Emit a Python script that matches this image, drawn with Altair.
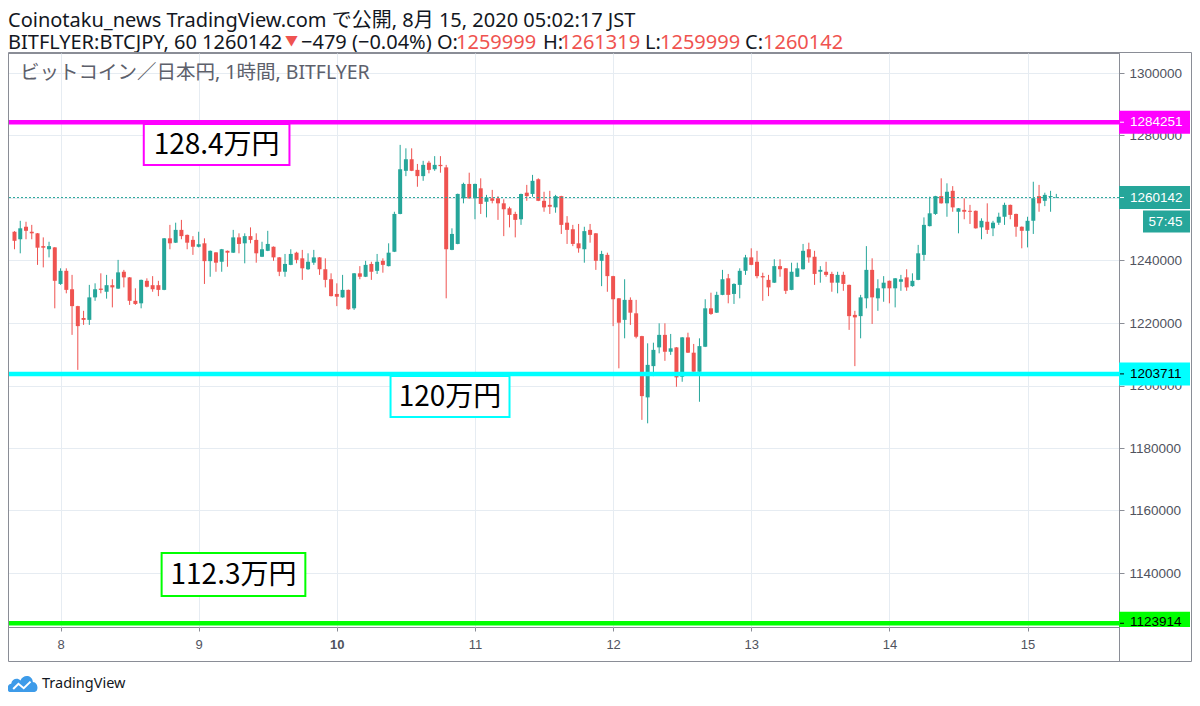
import altair as alt
import pandas as pd

# ---------------- data ----------------
hours = list(range(-8, 174))  # hourly candles, 0 = Aug 8 00:00 JST

opens = [
1249200,1246800,1250800,1249200,1248700,1244600,1243600,1244200,1232500,1236700,
1230800,1225400,1221600,1221000,1228200,1231000,1230000,1232100,1231000,1236400,
1234600,1227100,1226300,1233500,1232100,1232100,1230600,1247100,1245700,1249800,
1248200,1246600,1244400,1245500,1239800,1242600,1239600,1243100,1242500,1247400,
1245500,1247800,1246600,1241200,1243100,1244400,1241000,1236400,1238600,1242500,
1240700,1237200,1239300,1241000,1237200,1234000,1229300,1228200,1230600,1224700,
1235900,1234800,1238900,1236700,1239900,1238200,1242800,1254900,1268700,1272400,
1269000,1267000,1271300,1269200,1270600,1269800,1243400,1245300,1259900,1264500,
1259900,1263100,1258800,1259900,1259900,1258300,1256700,1254900,1253200,1261700,
1261300,1266000,1259100,1257800,1257000,1260600,1252100,1250000,1245500,1243600,
1249800,1248700,1239900,1241800,1235000,1227900,1221000,1227400,1223100,1215800,
1196200,1206200,1212200,1216200,1210800,1212200,1202800,1215400,1210500,1204400,
1212400,1224700,1223300,1229000,1234300,1229300,1232200,1236700,1241000,1239600,
1235000,1233800,1232900,1238200,1237500,1230600,1234800,1237200,1243600,1241200,
1236400,1236400,1235700,1232900,1235400,1232200,1222600,1222200,1227900,1237000,
1227900,1231100,1233500,1231100,1233200,1234600,1231800,1233800,1241800,1251000,
1254900,1260600,1258300,1262300,1255600,1256200,1255900,1255900,1250600,1252400,
1250300,1252100,1254000,1257800,1254900,1250800,1249500,1252700,1260600,1259100,
1260300,1259999]

highs = [
1249400,1252700,1252400,1251400,1248800,1247400,1246000,1244300,1237500,1237500,
1235400,1225500,1223900,1232200,1232700,1235900,1235400,1234000,1240200,1237000,
1234700,1231100,1233900,1234300,1235000,1233500,1247200,1251400,1252100,1253000,
1248300,1247800,1249200,1247100,1243200,1242700,1243700,1243200,1249800,1248700,
1248700,1250600,1248700,1246000,1249500,1244500,1241100,1242100,1243600,1242800,
1243400,1242300,1243400,1241100,1240700,1235900,1232700,1235400,1230700,1236000,
1238200,1239900,1239600,1242100,1240700,1245500,1255600,1277000,1275900,1275900,
1270900,1271900,1271900,1273400,1273400,1270600,1250300,1261400,1264900,1268100,
1264600,1266300,1261000,1262600,1260600,1259600,1257200,1255600,1261400,1264200,
1267400,1266300,1262000,1262300,1261000,1260700,1254200,1251400,1251700,1250800,
1251700,1248800,1243100,1242500,1235100,1228000,1234000,1228200,1227400,1215900,
1213500,1213700,1219900,1219900,1216500,1212300,1215500,1216900,1213300,1215100,
1227600,1229700,1230000,1237000,1235700,1232700,1237500,1241800,1243900,1243100,
1236100,1235400,1240400,1240400,1237600,1239300,1239300,1245300,1245700,1243100,
1238200,1239600,1236400,1236400,1236400,1232300,1223900,1229000,1244600,1240700,
1234000,1235000,1233600,1234400,1235400,1237200,1235900,1245000,1253800,1260400,
1260700,1266300,1264700,1263800,1256800,1259900,1257800,1256000,1253500,1258300,
1252700,1255300,1258500,1257900,1255000,1250900,1254000,1265200,1264200,1261700,
1262300,1261319]

lows = [
1243600,1242300,1246800,1246800,1238600,1237800,1241000,1224700,1232200,1229500,
1216200,1205000,1219400,1219400,1227100,1229500,1227800,1225000,1230900,1231400,
1225800,1225800,1224700,1231400,1230000,1228600,1230500,1243600,1245600,1246800,
1243600,1241800,1244200,1232500,1234800,1236400,1236400,1238000,1242400,1242300,
1239100,1245500,1239300,1241100,1243000,1239900,1235000,1234800,1238500,1239100,
1233800,1237000,1238600,1235400,1231400,1228500,1225400,1228100,1224200,1224200,
1234000,1234700,1233800,1235700,1236100,1238100,1242700,1254800,1267000,1268600,
1263600,1265500,1267900,1268700,1268100,1227900,1243300,1245200,1258300,1259800,
1253200,1254900,1253800,1258300,1253000,1247800,1250600,1247400,1251400,1259100,
1260400,1259000,1255600,1254900,1255300,1248500,1245300,1244600,1242500,1239300,
1245700,1237000,1231800,1230000,1219000,1205500,1215100,1219400,1215100,1189000,
1187900,1203000,1210300,1207900,1209800,1199600,1201200,1210400,1204300,1194800,
1212300,1222600,1223200,1228900,1226300,1226100,1227900,1235400,1238500,1234300,
1227100,1228600,1232800,1234800,1229300,1230500,1234700,1237100,1239300,1232200,
1232900,1234800,1230000,1229500,1230300,1217800,1206200,1215100,1224700,1219700,
1223900,1226800,1226300,1225000,1230300,1230300,1231600,1233700,1239900,1250900,
1254600,1258200,1254000,1255600,1248700,1253200,1251700,1250200,1246800,1248500,
1247800,1251400,1251400,1253200,1247600,1243900,1244200,1248500,1255600,1257400,
1255600,1259999]

closes = [
1246300,1250300,1249500,1248700,1244100,1244100,1244600,1233500,1236700,1230600,
1225400,1219000,1221000,1228200,1230800,1230600,1232100,1231400,1236200,1234600,
1227100,1226100,1233800,1231600,1230800,1230600,1247100,1245500,1249800,1247800,
1245700,1244400,1245200,1239800,1243100,1239300,1243600,1242500,1247400,1245300,
1247800,1246600,1242300,1243600,1245300,1241000,1236400,1238900,1242100,1240200,
1237500,1239600,1241000,1237200,1233800,1228600,1228400,1230600,1224400,1235900,
1234800,1238600,1236400,1239600,1238600,1242500,1254900,1269200,1272400,1268700,
1267000,1270600,1269000,1270600,1270200,1243600,1248500,1261300,1264500,1259900,
1264500,1258100,1260200,1259100,1258300,1256400,1254600,1253000,1261300,1260600,
1265500,1259100,1257000,1257200,1260600,1251400,1249800,1245300,1243900,1249400,
1248200,1239900,1242100,1235000,1227600,1220100,1227400,1223300,1215600,1196600,
1206600,1211400,1216200,1210800,1211900,1202600,1215400,1210500,1204400,1212600,
1224700,1222900,1229000,1234000,1229000,1232500,1236700,1241000,1238600,1235000,
1234600,1231400,1238200,1237200,1230300,1236400,1237500,1243100,1241000,1235700,
1237000,1235400,1232900,1235400,1232500,1222200,1221800,1228200,1237000,1228200,
1231100,1232900,1231100,1234300,1234000,1231400,1233500,1242300,1251400,1255100,
1260600,1258300,1262000,1257000,1256700,1255600,1255600,1250300,1252700,1249800,
1252100,1254000,1257800,1254600,1250800,1249500,1252700,1259900,1258300,1261000,
1260621,1260142]

day_ticks = [0, 24, 48, 72, 96, 120, 144, 168]
day_labels = ["8", "9", "10", "11", "12", "13", "14", "15"]
bold_day = 48
price_ticks = [1140000, 1160000, 1180000, 1200000, 1220000, 1240000, 1260000, 1280000, 1300000]

level_names = ["high", "mid", "low"]
level_prices = [1284251, 1203711, 1123914]
last_price = 1260142
countdown = "57:45"

note_texts = ["128.4万円", "120万円", "112.3万円"]
note_x1 = [14.46, 57.33, 17.56]
note_x2 = [39.77, 78.0, 42.53]
note_p1 = [1283680, 1203040, 1146400]
note_p2 = [1270560, 1189920, 1132640]

header1 = "Coinotaku_news TradingView.com で公開, 8月 15, 2020 05:02:17 JST"
header2 = ["BITFLYER:BTCJPY, 60 1260142", "▼", "−479 (−0.04%) O:", "1259999", "H:",
           "1261319", "L:", "1259999", "C:", "1260142"]
pane_title = "ビットコイン／日本円, 1時間, BITFLYER"

# ---------------- styles ----------------
UP, DOWN = "#26a69a", "#ef5350"
LEVEL_COLORS = ["#ff00ff", "#00ffff", "#00ff00"]
GRID = "#e6ecf2"
FRAME = "#8a8d96"
LBL = "#50535e"
FONT = "'Noto Sans', 'Noto Sans CJK JP', sans-serif"
AXF = "'Liberation Sans', Arial, sans-serif"
W, H = 1111, 574
AX_FS = 13.5

xs = alt.Scale(domain=[-8.26, 183.02], nice=False, zero=False)
ys = alt.Scale(domain=[1122720, 1306400], nice=False, zero=False)

df = pd.DataFrame({"h": hours, "o": opens, "hi": highs, "lo": lows, "c": closes})
df["dir"] = ["up" if c >= o else "down" for o, c in zip(opens, closes)]
color = alt.Color("dir:N", scale=alt.Scale(domain=["up", "down"], range=[UP, DOWN]), legend=None)

label_expr = " : ".join(f"datum.value == {v} ? '{t}'" for v, t in zip(day_ticks, day_labels)) + " : ''"

x_axis = alt.Axis(values=day_ticks, labelExpr=label_expr, grid=True, gridColor=GRID,
                  tickColor=FRAME, tickSize=4, domain=False, labelColor=LBL,
                  labelFontSize=13, labelFont=AXF, labelPadding=7,
                  labelFontWeight={"condition": {"test": f"datum.value == {bold_day}", "value": "bold"},
                                   "value": "normal"})
y_axis = alt.Axis(orient="right", values=price_ticks, format="d", grid=True, gridColor=GRID,
                  tickColor=FRAME, tickSize=5, domainColor=FRAME, labelColor=LBL,
                  labelFontSize=AX_FS, labelFont=AXF, labelPadding=5)

base = alt.Chart(df)
wicks = base.mark_rule(strokeWidth=1).encode(
    x=alt.X("h:Q", scale=xs, axis=x_axis, title=None),
    y=alt.Y("lo:Q", scale=ys, axis=y_axis, title=None),
    y2="hi:Q", color=color)
bodies = base.mark_bar(size=4).encode(
    x=alt.X("h:Q", scale=xs, title=None),
    y=alt.Y("o:Q", scale=ys, title=None),
    y2="c:Q", color=color)

last_df = pd.DataFrame({"p": [last_price]})
last_line = alt.Chart(last_df).mark_rule(color=UP, strokeDash=[2, 2], strokeWidth=1).encode(
    y=alt.Y("p:Q", scale=ys, title=None))

lev_df = pd.DataFrame({"k": level_names, "p": level_prices})
lev_color = alt.Color("k:N", scale=alt.Scale(domain=level_names, range=LEVEL_COLORS), legend=None)
levels = alt.Chart(lev_df).mark_rule(strokeWidth=4.5).encode(
    y=alt.Y("p:Q", scale=ys, title=None), color=lev_color)

notes_df = pd.DataFrame({"k": level_names, "t": note_texts, "x1": note_x1, "x2": note_x2,
                         "p1": note_p1, "p2": note_p2})
note_boxes = alt.Chart(notes_df).mark_rect(fill="white", strokeWidth=2).encode(
    x=alt.X("x1:Q", scale=xs, title=None), x2="x2:Q",
    y=alt.Y("p1:Q", scale=ys, title=None), y2="p2:Q",
    stroke=alt.Stroke("k:N", scale=alt.Scale(domain=level_names, range=LEVEL_COLORS), legend=None))
note_text = alt.Chart(notes_df).transform_calculate(
    xm="(datum.x1 + datum.x2) / 2", pm="(datum.p1 + datum.p2) / 2"
).mark_text(fontSize=28, font="'Noto Sans CJK JP', sans-serif", color="#000000",
            align="center", baseline="middle", dy=1).encode(
    x=alt.X("xm:Q", scale=xs, title=None), y=alt.Y("pm:Q", scale=ys, title=None), text="t:N")

# right-axis price labels
BOX = "M-1,-0.324L1,-0.324L1,0.324L-1,0.324Z"
BOX_CLIP = "M-1,-0.324L1,-0.324L1,0.104L-1,0.104Z"
CD_BOX = "M-1,-0.468L1,-0.468L1,0.468L-1,0.468Z"
tag_names = ["high", "last", "mid"]
tag_prices = [level_prices[0], last_price, level_prices[1]]
tag_fill = ["#ff00ff", UP, "#00ffff"]
tag_txt = ["#ffffff", "#ffffff", "#000000"]
tags_df = pd.DataFrame({"k": tag_names, "p": tag_prices})
tag_fill_enc = alt.Color("k:N", scale=alt.Scale(domain=tag_names, range=tag_fill), legend=None)
tag_txt_enc = alt.Color("k:N", scale=alt.Scale(domain=tag_names, range=tag_txt), legend=None)
tags = alt.Chart(tags_df).mark_point(shape=BOX, size=5041, filled=True, opacity=1, strokeWidth=0).encode(
    x=alt.value(W + 35.5), y=alt.Y("p:Q", scale=ys, title=None), color=tag_fill_enc)
tag_dash = alt.Chart(tags_df).mark_rule(strokeWidth=1).encode(
    x=alt.value(W + 1), x2=alt.value(W + 5), y=alt.Y("p:Q", scale=ys, title=None), color=tag_txt_enc)
tag_text = alt.Chart(tags_df).mark_text(align="left", baseline="middle", fontSize=AX_FS, font=AXF).encode(
    x=alt.value(W + 11), y=alt.Y("p:Q", scale=ys, title=None),
    text=alt.Text("p:Q", format="d"), color=tag_txt_enc)

low_df = pd.DataFrame({"p": [level_prices[2]]})
low_tag = alt.Chart(low_df).mark_point(shape=BOX_CLIP, size=5041, filled=True, opacity=1,
                                        strokeWidth=0, color="#00ff00").encode(
    x=alt.value(W + 35.5), y=alt.Y("p:Q", scale=ys, title=None))
low_dash = alt.Chart(low_df).mark_rule(strokeWidth=1, color="#000000").encode(
    x=alt.value(W + 1), x2=alt.value(W + 5), y=alt.Y("p:Q", scale=ys, title=None))
low_text = alt.Chart(low_df).mark_text(align="left", baseline="middle", fontSize=AX_FS, font=AXF,
                                        color="#000000", dy=-1).encode(
    x=alt.value(W + 11), y=alt.Y("p:Q", scale=ys, title=None), text=alt.Text("p:Q", format="d"))

cd_box = alt.Chart(last_df).mark_point(shape=CD_BOX, size=2209, filled=True, opacity=1, strokeWidth=0,
                                       color=UP, yOffset=24).encode(
    x=alt.value(W + 47.5), y=alt.Y("p:Q", scale=ys, title=None))
cd_text = alt.Chart(last_df).mark_text(text=countdown, align="center", baseline="middle", fontSize=AX_FS,
                                       font=AXF, color="#ffffff", yOffset=24).encode(
    x=alt.value(W + 46.5), y=alt.Y("p:Q", scale=ys, title=None))

one = pd.DataFrame({"k": [0]})


def label(text, x, y, size, color, font=FONT, align="left"):
    return alt.Chart(one).mark_text(text=text, align=align, baseline="middle", fontSize=size,
                                    color=color, font=font).encode(x=alt.value(x), y=alt.value(y))


HS = 20
texts = [label(pane_title, 12, 20, 19.5, "#5d606b"),
         label(header1, 0, -32.5, HS, "#131722")]
hdr2_x = [0, 277, 293, 448, 535, 552, 637, 652, 737, 755]
for i, (t, xx) in enumerate(zip(header2, hdr2_x)):
    red = (i % 2 == 1)
    size = 13 if t == "▼" else HS
    yy = -12 if t == "▼" else -10
    texts.append(label(t, xx, yy, size, DOWN if red else "#131722"))

# frame
frame = alt.Chart(one).mark_rect(fillOpacity=0, stroke=FRAME, strokeWidth=1).encode(
    x=alt.value(0.5), x2=alt.value(W + 72.5), y=alt.value(-0.5), y2=alt.value(H + 34.5))
axis_ext = alt.Chart(one).mark_rule(color=FRAME, strokeWidth=1).encode(
    x=alt.value(W + 0.5), y=alt.value(H), y2=alt.value(H + 35))

# footer logo
CLOUD = ("M-0.8,0.55 C-1.05,0.55 -1.05,0.05 -0.75,0.02 C-0.7,-0.3 -0.35,-0.4 -0.15,-0.2 "
         "C0.0,-0.6 0.6,-0.6 0.65,-0.1 C1.0,-0.1 1.05,0.55 0.75,0.55 Z")
ZIG = "M-0.62,0.36 L-0.28,0.02 L0.06,0.3 L0.5,-0.12"
logo = alt.Chart(one).mark_point(shape=CLOUD, size=961, filled=True, opacity=1, strokeWidth=0,
                                 color="#3d9be9").encode(x=alt.value(14.8), y=alt.value(630.5))
logo_line = alt.Chart(one).mark_point(shape=ZIG, size=961, filled=False, opacity=1, strokeWidth=2,
                                      color="#ffffff").encode(x=alt.value(14.8), y=alt.value(630.5))
logo_text = label("TradingView", 34, 631, 14.5, "#131722")

chart = alt.layer(
    wicks, bodies, last_line, levels, note_boxes, note_text,
    tags, tag_dash, tag_text, low_tag, low_dash, low_text, cd_box, cd_text,
    *texts, frame, axis_ext, logo, logo_line, logo_text
).resolve_scale(
    color="independent", stroke="independent"
).properties(
    width=W, height=H,
    padding={"left": 0, "top": 45, "right": 73, "bottom": 71},
    autosize=alt.AutoSizeParams(type="none"),
    background="white",
).configure_view(stroke=FRAME, strokeWidth=1)

chart.save("out.html", embed_options={"renderer": "svg", "actions": False})
